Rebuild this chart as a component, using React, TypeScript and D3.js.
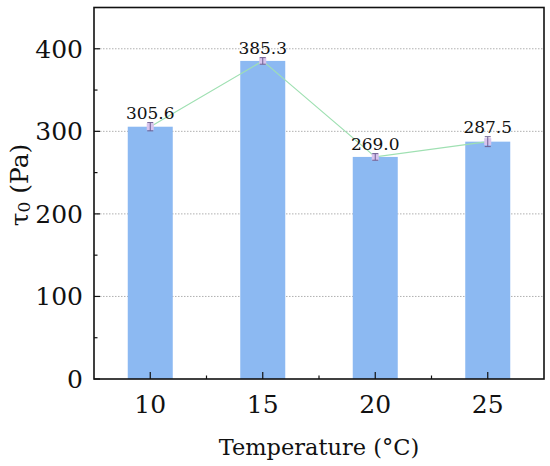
import * as d3 from "d3";
import {useRef, useEffect} from "react";

const categories = ["10", "15", "20", "25"];
const values = [305.6, 385.3, 269.0, 287.5];
const errors = [5, 4, 4, 6];
const labels = ["305.6", "385.3", "269.0", "287.5"];
const yTicks = [0, 100, 200, 300, 400];
const yMinorTicks = [50, 150, 250, 350];

export default function App() {
    const svgRef = useRef(null);
    const width = 550;
    const height = 466;
    const margin = {top: 7.5, right: 6, bottom: 87, left: 94};
    const font = "\"DejaVu Serif\"";

    useEffect(() => {
        const svg = d3.select(svgRef.current);
        svg.selectAll("*").remove();
        const g = svg.append("g");

        const x = d3.scaleBand()
            .domain(categories)
            .range([margin.left, width - margin.right])
            .paddingInner(0.6)
            .paddingOuter(0.3);

        const y = d3.scaleLinear()
            .domain([0, 450])
            .range([height - margin.bottom, margin.top]);

        const left = margin.left;
        const right = width - margin.right;
        const bottom = height - margin.bottom;
        const step = x.step();

        // grid lines
        g.selectAll(".grid")
            .data(yTicks.filter(d => d > 0))
            .join("line")
            .attr("x1", left).attr("x2", right)
            .attr("y1", d => y(d)).attr("y2", d => y(d))
            .attr("stroke", "#b0b0b0")
            .attr("stroke-width", 1)
            .attr("stroke-dasharray", "1.5,1.5");

        // bars
        g.selectAll(".bar")
            .data(values)
            .join("rect")
            .attr("x", (d, i) => x(categories[i])!)
            .attr("y", d => y(d))
            .attr("width", x.bandwidth())
            .attr("height", d => bottom - y(d))
            .attr("fill", "#8cb9f2");

        // connecting line
        const line = d3.line<number>()
            .x((d, i) => x(categories[i])! + x.bandwidth() / 2)
            .y(d => y(d));

        g.append("path")
            .datum(values)
            .attr("fill", "none")
            .attr("stroke", "#9fe0b2")
            .attr("stroke-width", 1.2)
            .attr("d", line);

        // markers + error bars
        values.forEach((v, i) => {
            const cx = x(categories[i])! + x.bandwidth() / 2;
            g.append("rect")
                .attr("x", cx - 3.5).attr("y", y(v) - 3.5)
                .attr("width", 7).attr("height", 7)
                .attr("fill", "#d8c4ee");
            const y1 = y(v + errors[i]);
            const y2 = y(v - errors[i]);
            const eb = g.append("g").attr("stroke", "#6e5f92").attr("stroke-width", 1);
            eb.append("line").attr("x1", cx).attr("x2", cx).attr("y1", y1).attr("y2", y2);
            eb.append("line").attr("x1", cx - 3).attr("x2", cx + 3).attr("y1", y1).attr("y2", y1);
            eb.append("line").attr("x1", cx - 3).attr("x2", cx + 3).attr("y1", y2).attr("y2", y2);

            g.append("text")
                .attr("x", cx)
                .attr("y", y1 - 3.5)
                .attr("text-anchor", "middle")
                .style("font-family", font)
                .attr("font-size", 17)
                .attr("fill", "#111")
                .text(labels[i]);
        });

        // frame
        g.append("rect")
            .attr("x", left).attr("y", margin.top)
            .attr("width", right - left).attr("height", bottom - margin.top)
            .attr("fill", "none")
            .attr("stroke", "#111")
            .attr("stroke-width", 1.6);

        // y ticks (inward)
        g.selectAll(".ytick")
            .data(yTicks)
            .join("line")
            .attr("x1", left).attr("x2", left + 6)
            .attr("y1", d => y(d)).attr("y2", d => y(d))
            .attr("stroke", "#111").attr("stroke-width", 1.2);
        g.selectAll(".yminor")
            .data(yMinorTicks)
            .join("line")
            .attr("x1", left).attr("x2", left + 3.5)
            .attr("y1", d => y(d)).attr("y2", d => y(d))
            .attr("stroke", "#111").attr("stroke-width", 1.2);
        g.selectAll(".ylabel")
            .data(yTicks)
            .join("text")
            .attr("x", left - 11)
            .attr("y", d => y(d))
            .attr("dy", "0.36em")
            .attr("text-anchor", "end")
            .style("font-family", font)
            .attr("font-size", 25)
            .attr("fill", "#111")
            .text(d => d);

        // x ticks (inward)
        g.selectAll(".xtick")
            .data(categories)
            .join("line")
            .attr("x1", d => x(d)! + x.bandwidth() / 2)
            .attr("x2", d => x(d)! + x.bandwidth() / 2)
            .attr("y1", bottom).attr("y2", bottom - 7)
            .attr("stroke", "#111").attr("stroke-width", 1.2);
        g.selectAll(".xminor")
            .data(categories.slice(1))
            .join("line")
            .attr("x1", d => x(d)! + x.bandwidth() / 2 - step / 2)
            .attr("x2", d => x(d)! + x.bandwidth() / 2 - step / 2)
            .attr("y1", bottom).attr("y2", bottom - 3.5)
            .attr("stroke", "#111").attr("stroke-width", 1.2);
        g.selectAll(".xlabel")
            .data(categories)
            .join("text")
            .attr("x", d => x(d)! + x.bandwidth() / 2)
            .attr("y", bottom + 34)
            .attr("text-anchor", "middle")
            .style("font-family", font)
            .attr("font-size", 25)
            .attr("fill", "#111")
            .text(d => d);

        // axis titles
        g.append("text")
            .attr("x", (left + right) / 2)
            .attr("y", 455)
            .attr("text-anchor", "middle")
            .style("font-family", font)
            .attr("font-size", 22.5)
            .attr("fill", "#111")
            .text("Temperature (\u00B0C)");

        const yt = g.append("text")
            .attr("transform", "translate(28,185) rotate(-90)")
            .attr("text-anchor", "middle")
            .style("font-family", font)
            .attr("font-size", 25)
            .attr("fill", "#111");
        yt.append("tspan").text("\u03C4");
        yt.append("tspan").attr("font-size", 17).attr("dy", 2).text("0");
        yt.append("tspan").attr("dy", -2).text(" (Pa)");
    }, []);

    return (
        <svg ref={svgRef} width={width} height={height}
             style={{position: "absolute", left: 0, top: 0, background: "#fff"}} />
    );
}
